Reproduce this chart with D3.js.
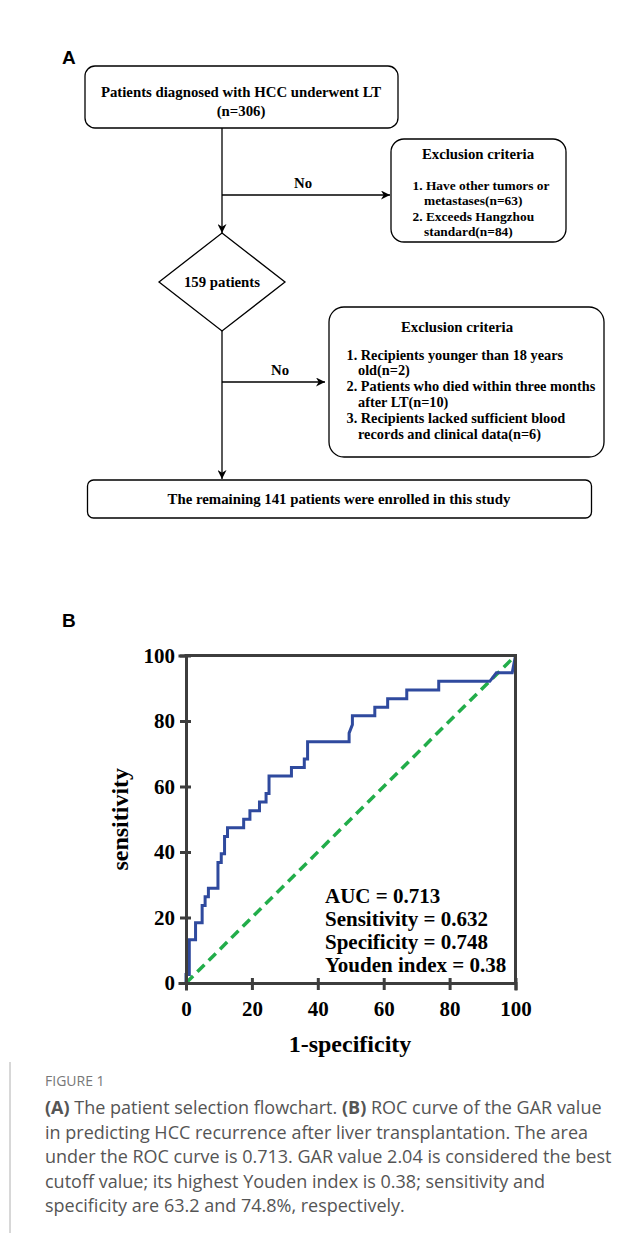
<!DOCTYPE html>
<html>
<head>
<meta charset="utf-8">
<script src="https://cdn.jsdelivr.net/npm/d3@7"></script>
<style>
  html, body { margin: 0; padding: 0; background: #fff; }
  svg { display: block; }
</style>
</head>
<body>
<div id="chart"></div>
<script>
// ---------------- DATA ----------------
// ROC curve vertices (1-specificity %, sensitivity %)
const rocFpr = [0, 0, 1.0, 1.0, 2.9, 2.9, 4.9, 4.9, 5.8, 5.8, 6.8, 6.8, 9.7, 9.7, 10.7, 10.7, 11.7, 11.7, 12.6, 12.6,
  17.5, 17.5, 19.4, 19.4, 22.3, 22.3, 24.3, 24.3, 25.2, 25.2, 32.0, 32.0, 35.9, 35.9, 36.9, 36.9,
  49.5, 49.5, 50.5, 50.5, 57.3, 57.3, 61.2, 61.2, 67.0, 67.0, 76.7, 76.7, 92.2, 94.2, 99.0, 100];
const rocTpr = [0, 2.6, 2.6, 13.2, 13.2, 18.4, 18.4, 23.7, 23.7, 26.3, 26.3, 28.9, 28.9, 36.8, 36.8, 39.5, 39.5, 44.7, 44.7, 47.4,
  47.4, 50.0, 50.0, 52.6, 52.6, 55.3, 55.3, 57.9, 57.9, 63.2, 63.2, 65.8, 65.8, 68.4, 68.4, 73.7,
  73.7, 76.3, 78.9, 81.6, 81.6, 84.2, 84.2, 86.8, 86.8, 89.5, 89.5, 92.1, 92.1, 94.7, 94.7, 100];
const refFpr = [0, 100];
const refTpr = [0, 100];
const xTicks = [0, 20, 40, 60, 80, 100];
const yTicks = [0, 20, 40, 60, 80, 100];
const xTitle = "1-specificity";
const yTitle = "sensitivity";
const statLines = ["AUC = 0.713", "Sensitivity = 0.632", "Specificity = 0.748", "Youden index = 0.38"];

// Flowchart texts
const topBoxLines = ["Patients diagnosed with HCC underwent LT", "(n=306)"];
const excl1Title = "Exclusion criteria";
const excl1Lines = ["1. Have other tumors or", "metastases(n=63)", "2. Exceeds Hangzhou", "standard(n=84)"];
const diamondText = "159 patients";
const excl2Title = "Exclusion criteria";
const excl2Lines = ["1. Recipients younger than 18 years", "old(n=2)", "2. Patients who died within three months",
  "after LT(n=10)", "3. Recipients lacked sufficient blood", "records and clinical data(n=6)"];
const bottomBoxText = "The remaining 141 patients were enrolled in this study";
const noLabel = "No";

// Caption
const captionHead = "FIGURE 1";
const captionLines = [
  [["(A)", true], [" The patient selection flowchart. ", false], ["(B)", true], [" ROC curve of the GAR value", false]],
  [["in predicting HCC recurrence after liver transplantation. The area", false]],
  [["under the ROC curve is 0.713. GAR value 2.04 is considered the best", false]],
  [["cutoff value; its highest Youden index is 0.38; sensitivity and", false]],
  [["specificity are 63.2 and 74.8%, respectively.", false]]
];

// ---------------- DRAW ----------------
const W = 643, H = 1233;
const svg = d3.select("#chart").append("svg").attr("width", W).attr("height", H);
svg.append("rect").attr("width", W).attr("height", H).attr("fill", "#fff");

const serif = "'Liberation Serif', 'Times New Roman', serif";
const sans = "'Liberation Sans', Arial, sans-serif";

// arrow marker
svg.append("defs").append("marker")
  .attr("id", "arr").attr("viewBox", "0 0 10 10").attr("refX", 10).attr("refY", 5)
  .attr("markerWidth", 9).attr("markerHeight", 9).attr("markerUnits", "userSpaceOnUse")
  .attr("orient", "auto")
  .append("path").attr("d", "M0,0 L10,5 L0,10 L3,5 Z").attr("fill", "#000");

// Panel labels
svg.append("text").attr("x", 62).attr("y", 64).text("A")
  .attr("font-family", sans).attr("font-weight", "bold").attr("font-size", 19);
svg.append("text").attr("x", 62).attr("y", 627).text("B")
  .attr("font-family", sans).attr("font-weight", "bold").attr("font-size", 19);

const fc = svg.append("g").attr("font-family", serif).attr("font-weight", "bold").attr("fill", "#000");
const fs = 14.8;
const boxStyle = sel => sel.attr("fill", "none").attr("stroke", "#000").attr("stroke-width", 1.3);

// top box
boxStyle(fc.append("rect").attr("x", 85).attr("y", 66).attr("width", 313).attr("height", 62).attr("rx", 10));
fc.selectAll("text.tb").data(topBoxLines).join("text")
  .attr("x", 241).attr("y", (d, i) => 97 + i * 19).attr("text-anchor", "middle")
  .attr("font-size", fs).text(d => d);

const lineStyle = sel => sel.attr("stroke", "#000").attr("stroke-width", 1.3).attr("fill", "none");
const cx = 222;
// trunk top box -> diamond
lineStyle(fc.append("line").attr("x1", cx).attr("y1", 128).attr("x2", cx).attr("y2", 233).attr("marker-end", "url(#arr)"));
// branch 1
lineStyle(fc.append("line").attr("x1", cx).attr("y1", 195).attr("x2", 390).attr("y2", 195).attr("marker-end", "url(#arr)"));
fc.append("text").attr("x", 303).attr("y", 188).attr("text-anchor", "middle").attr("font-size", fs).text(noLabel);

// exclusion box 1
boxStyle(fc.append("rect").attr("x", 391).attr("y", 139).attr("width", 175).attr("height", 103).attr("rx", 13));
fc.append("text").attr("x", 478).attr("y", 159).attr("text-anchor", "middle").attr("font-size", fs).text(excl1Title);
fc.selectAll("text.e1").data(excl1Lines).join("text")
  .attr("x", (d, i) => i % 2 === 0 ? 412.5 : 424).attr("y", (d, i) => 190 + i * 15.3)
  .attr("font-size", 13.4).text(d => d);

// diamond
boxStyle(fc.append("path").attr("d", `M${cx},233 L285,282 L${cx},331 L159,282 Z`));
fc.append("text").attr("x", cx).attr("y", 287).attr("text-anchor", "middle").attr("font-size", fs).text(diamondText);

// trunk diamond -> bottom box
lineStyle(fc.append("line").attr("x1", cx).attr("y1", 331).attr("x2", cx).attr("y2", 479).attr("marker-end", "url(#arr)"));
// branch 2
lineStyle(fc.append("line").attr("x1", cx).attr("y1", 382).attr("x2", 325).attr("y2", 382).attr("marker-end", "url(#arr)"));
fc.append("text").attr("x", 280).attr("y", 375).attr("text-anchor", "middle").attr("font-size", fs).text(noLabel);

// exclusion box 2
boxStyle(fc.append("rect").attr("x", 329).attr("y", 307).attr("width", 275).attr("height", 150).attr("rx", 15));
fc.append("text").attr("x", 457).attr("y", 332).attr("text-anchor", "middle").attr("font-size", fs).text(excl2Title);
fc.selectAll("text.e2").data(excl2Lines).join("text")
  .attr("x", (d, i) => i % 2 === 0 ? 346.5 : 358).attr("y", (d, i) => 359.5 + i * 15.8)
  .attr("font-size", 14.3).text(d => d);

// bottom box
boxStyle(fc.append("rect").attr("x", 87.5).attr("y", 480).attr("width", 504).attr("height", 38).attr("rx", 6));
fc.append("text").attr("x", 339).attr("y", 504).attr("text-anchor", "middle").attr("font-size", fs).text(bottomBoxText);

// ---------------- ROC plot ----------------
const x = d3.scaleLinear().domain([0, 100]).range([186, 515.5]);
const y = d3.scaleLinear().domain([0, 100]).range([983, 655.5]);
const axisColor = "#3d3d3d";
const plot = svg.append("g");

// reference diagonal
const refData = refFpr.map((v, i) => [v, refTpr[i]]);
plot.append("path").datum(refData)
  .attr("d", d3.line().x(d => x(d[0])).y(d => y(d[1])))
  .attr("stroke", "#22ad4a").attr("stroke-width", 3.5).attr("stroke-dasharray", "10,6").attr("fill", "none");

// ROC curve
const rocData = rocFpr.map((v, i) => [v, rocTpr[i]]);
plot.append("path").datum(rocData)
  .attr("d", d3.line().x(d => x(d[0])).y(d => y(d[1])))
  .attr("stroke", "#2f4a9e").attr("stroke-width", 3).attr("stroke-linejoin", "miter").attr("fill", "none");

// frame top / right
plot.append("line").attr("x1", x(0)).attr("x2", x(100)).attr("y1", y(100)).attr("y2", y(100))
  .attr("stroke", axisColor).attr("stroke-width", 3).attr("stroke-linecap", "square");
plot.append("line").attr("x1", x(100)).attr("x2", x(100)).attr("y1", y(100)).attr("y2", y(0))
  .attr("stroke", axisColor).attr("stroke-width", 3).attr("stroke-linecap", "square");

// axes
const xAxis = plot.append("g").attr("transform", `translate(0,${y(0)})`)
  .call(d3.axisBottom(x).tickValues(xTicks).tickSize(6).tickPadding(12).tickFormat(d3.format("d")));
const yAxis = plot.append("g").attr("transform", `translate(${x(0)},0)`)
  .call(d3.axisLeft(y).tickValues(yTicks).tickSize(6).tickPadding(5).tickFormat(d3.format("d")));
[xAxis, yAxis].forEach(g => {
  g.select(".domain").attr("stroke", axisColor).attr("stroke-width", 3).attr("stroke-linecap", "square");
  g.selectAll(".tick line").attr("stroke", axisColor).attr("stroke-width", 3);
  g.selectAll(".tick text").attr("font-family", serif).attr("font-weight", "bold")
    .attr("font-size", 21).attr("fill", "#000");
});
xAxis.selectAll(".tick line").attr("y1", -5).attr("y2", 7);
yAxis.selectAll(".tick line").attr("x1", 5).attr("x2", -6);

// axis titles
plot.append("text").attr("x", 350).attr("y", 1052).attr("text-anchor", "middle")
  .attr("font-family", serif).attr("font-weight", "bold").attr("font-size", 24).text(xTitle);
plot.append("text").attr("transform", `translate(128,${y(50)}) rotate(-90)`).attr("text-anchor", "middle")
  .attr("font-family", serif).attr("font-weight", "bold").attr("font-size", 24).text(yTitle);

// stats
plot.selectAll("text.stat").data(statLines).join("text")
  .attr("x", 325).attr("y", (d, i) => 903 + i * 23)
  .attr("font-family", serif).attr("font-weight", "bold").attr("font-size", 21).text(d => d);

// ---------------- Caption ----------------
svg.append("line").attr("x1", 10).attr("x2", 10).attr("y1", 1062).attr("y2", H)
  .attr("stroke", "#b0b0b0").attr("stroke-width", 1);
const capFont = "'Open Sans', 'Noto Sans', sans-serif";
svg.append("text").attr("x", 45).attr("y", 1086).attr("font-family", capFont).attr("font-size", 14)
  .attr("fill", "#777").text(captionHead);
const capG = svg.append("g").attr("font-family", capFont).attr("font-size", 18).attr("fill", "#555");
captionLines.forEach((segs, i) => {
  const t = capG.append("text").attr("x", 45).attr("y", 1114 + i * 24.5);
  segs.forEach(s => t.append("tspan").attr("font-weight", s[1] ? "bold" : "normal").text(s[0]));
});
</script>
</body>
</html>
